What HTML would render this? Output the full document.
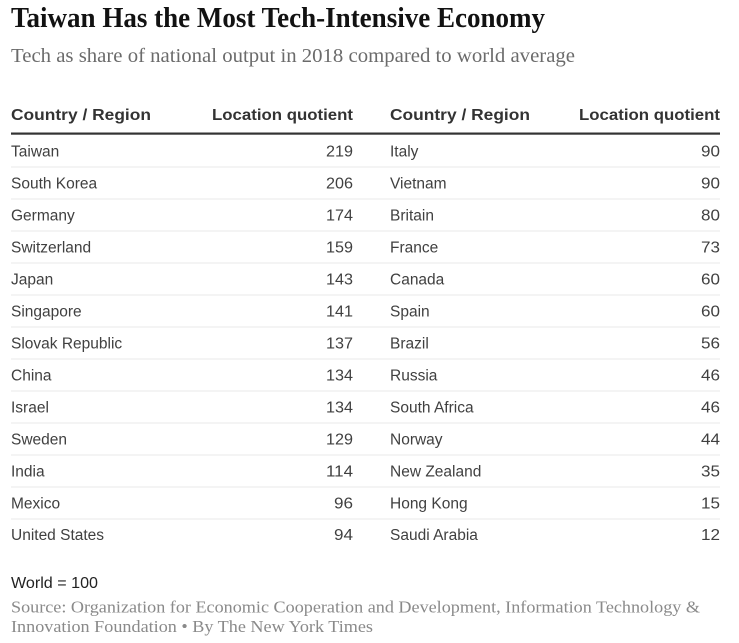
<!DOCTYPE html>
<html>
<head>
<meta charset="utf-8">
<style>
  html, body { margin: 0; padding: 0; background: #ffffff; }
  body { width: 739px; height: 643px; overflow: hidden; }
  svg { display: block; }
  .title { font-family: "Liberation Serif", serif; font-weight: bold; font-size: 28px; fill: #121212; }
  .sub { font-family: "Liberation Serif", serif; font-size: 20px; fill: #6b6b6b; }
  .hdr { font-family: "Liberation Sans", sans-serif; font-weight: bold; font-size: 15.5px; fill: #333333; }
  .cell { font-family: "Liberation Sans", sans-serif; font-size: 15.5px; fill: #404040; }
  .num { text-anchor: end; }
  .note { font-family: "Liberation Sans", sans-serif; font-size: 16px; fill: #222222; }
  .src { font-family: "Liberation Serif", serif; font-size: 16.5px; fill: #8a8a8a; }
</style>
</head>
<body>
<svg width="739" height="643" viewBox="0 0 739 643" xmlns="http://www.w3.org/2000/svg">
  <text class="title" x="11" y="27" textLength="534" lengthAdjust="spacingAndGlyphs">Taiwan Has the Most Tech-Intensive Economy</text>
  <text class="sub" x="11" y="62" textLength="564" lengthAdjust="spacingAndGlyphs">Tech as share of national output in 2018 compared to world average</text>

  <!-- headers -->
  <text class="hdr" x="11" y="120" textLength="140" lengthAdjust="spacingAndGlyphs">Country / Region</text>
  <text class="hdr" x="212" y="120" textLength="141" lengthAdjust="spacingAndGlyphs">Location quotient</text>
  <text class="hdr" x="390" y="120" textLength="140" lengthAdjust="spacingAndGlyphs">Country / Region</text>
  <text class="hdr" x="579" y="120" textLength="141" lengthAdjust="spacingAndGlyphs">Location quotient</text>

  <rect x="11" y="132.5" width="709" height="2.2" fill="#333333"/>

  <!-- dividers -->
  <g fill="#e8e8e8">
    <rect x="11" y="166.5" width="709" height="1"/>
    <rect x="11" y="198.5" width="709" height="1"/>
    <rect x="11" y="230.5" width="709" height="1"/>
    <rect x="11" y="262.5" width="709" height="1"/>
    <rect x="11" y="294.5" width="709" height="1"/>
    <rect x="11" y="326.5" width="709" height="1"/>
    <rect x="11" y="358.5" width="709" height="1"/>
    <rect x="11" y="390.5" width="709" height="1"/>
    <rect x="11" y="422.5" width="709" height="1"/>
    <rect x="11" y="454.5" width="709" height="1"/>
    <rect x="11" y="486.5" width="709" height="1"/>
    <rect x="11" y="518.5" width="709" height="1"/>
  </g>

  <!-- left table -->
  <g>
    <text class="cell" x="11" y="156.5">Taiwan</text><text class="cell" x="326" y="156.5" textLength="27" lengthAdjust="spacingAndGlyphs">219</text>
    <text class="cell" x="11" y="188.5">South Korea</text><text class="cell" x="326" y="188.5" textLength="27" lengthAdjust="spacingAndGlyphs">206</text>
    <text class="cell" x="11" y="220.5">Germany</text><text class="cell" x="326" y="220.5" textLength="27" lengthAdjust="spacingAndGlyphs">174</text>
    <text class="cell" x="11" y="252.5">Switzerland</text><text class="cell" x="326" y="252.5" textLength="27" lengthAdjust="spacingAndGlyphs">159</text>
    <text class="cell" x="11" y="284.5">Japan</text><text class="cell" x="326" y="284.5" textLength="27" lengthAdjust="spacingAndGlyphs">143</text>
    <text class="cell" x="11" y="316.5">Singapore</text><text class="cell" x="326" y="316.5" textLength="27" lengthAdjust="spacingAndGlyphs">141</text>
    <text class="cell" x="11" y="348.5">Slovak Republic</text><text class="cell" x="326" y="348.5" textLength="27" lengthAdjust="spacingAndGlyphs">137</text>
    <text class="cell" x="11" y="380.5">China</text><text class="cell" x="326" y="380.5" textLength="27" lengthAdjust="spacingAndGlyphs">134</text>
    <text class="cell" x="11" y="412.5">Israel</text><text class="cell" x="326" y="412.5" textLength="27" lengthAdjust="spacingAndGlyphs">134</text>
    <text class="cell" x="11" y="444.5">Sweden</text><text class="cell" x="326" y="444.5" textLength="27" lengthAdjust="spacingAndGlyphs">129</text>
    <text class="cell" x="11" y="476.5">India</text><text class="cell" x="326" y="476.5" textLength="27" lengthAdjust="spacingAndGlyphs">114</text>
    <text class="cell" x="11" y="508.5">Mexico</text><text class="cell" x="334" y="508.5" textLength="19" lengthAdjust="spacingAndGlyphs">96</text>
    <text class="cell" x="11" y="540">United States</text><text class="cell" x="334" y="540" textLength="19" lengthAdjust="spacingAndGlyphs">94</text>
  </g>

  <!-- right table -->
  <g>
    <text class="cell" x="390" y="156.5">Italy</text><text class="cell" x="701" y="156.5" textLength="19" lengthAdjust="spacingAndGlyphs">90</text>
    <text class="cell" x="390" y="188.5">Vietnam</text><text class="cell" x="701" y="188.5" textLength="19" lengthAdjust="spacingAndGlyphs">90</text>
    <text class="cell" x="390" y="220.5">Britain</text><text class="cell" x="701" y="220.5" textLength="19" lengthAdjust="spacingAndGlyphs">80</text>
    <text class="cell" x="390" y="252.5">France</text><text class="cell" x="701" y="252.5" textLength="19" lengthAdjust="spacingAndGlyphs">73</text>
    <text class="cell" x="390" y="284.5">Canada</text><text class="cell" x="701" y="284.5" textLength="19" lengthAdjust="spacingAndGlyphs">60</text>
    <text class="cell" x="390" y="316.5">Spain</text><text class="cell" x="701" y="316.5" textLength="19" lengthAdjust="spacingAndGlyphs">60</text>
    <text class="cell" x="390" y="348.5">Brazil</text><text class="cell" x="701" y="348.5" textLength="19" lengthAdjust="spacingAndGlyphs">56</text>
    <text class="cell" x="390" y="380.5">Russia</text><text class="cell" x="701" y="380.5" textLength="19" lengthAdjust="spacingAndGlyphs">46</text>
    <text class="cell" x="390" y="412.5">South Africa</text><text class="cell" x="701" y="412.5" textLength="19" lengthAdjust="spacingAndGlyphs">46</text>
    <text class="cell" x="390" y="444.5">Norway</text><text class="cell" x="701" y="444.5" textLength="19" lengthAdjust="spacingAndGlyphs">44</text>
    <text class="cell" x="390" y="476.5">New Zealand</text><text class="cell" x="701" y="476.5" textLength="19" lengthAdjust="spacingAndGlyphs">35</text>
    <text class="cell" x="390" y="508.5">Hong Kong</text><text class="cell" x="701" y="508.5" textLength="19" lengthAdjust="spacingAndGlyphs">15</text>
    <text class="cell" x="390" y="540">Saudi Arabia</text><text class="cell" x="701" y="540" textLength="19" lengthAdjust="spacingAndGlyphs">12</text>
  </g>

  <!-- footer -->
  <text class="note" x="11" y="588" textLength="87" lengthAdjust="spacingAndGlyphs">World = 100</text>
  <text class="src" x="11" y="612.5" textLength="689" lengthAdjust="spacingAndGlyphs">Source: Organization for Economic Cooperation and Development, Information Technology &amp;</text>
  <text class="src" x="11" y="632" textLength="362" lengthAdjust="spacingAndGlyphs">Innovation Foundation • By The New York Times</text>
</svg>
</body>
</html>
